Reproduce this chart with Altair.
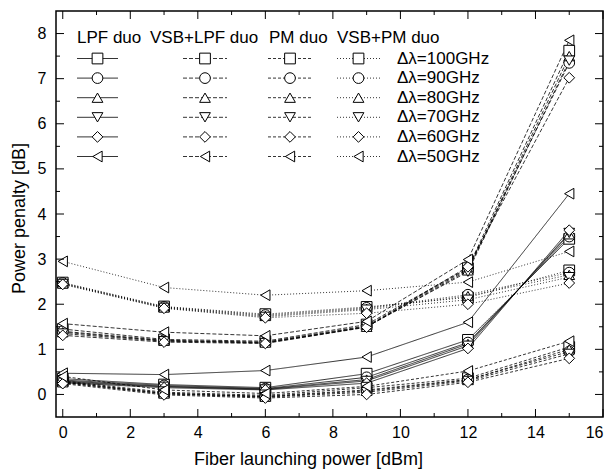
import altair as alt
import pandas as pd

# ---------------- data ----------------
power = [0, 3, 6, 9, 12, 15]
spacings = ["100", "90", "80", "70", "60", "50"]
schemes = ["LPF duo", "VSB+LPF duo", "PM duo", "VSB+PM duo"]

lpf_duo = {
    "100": [0.35, 0.22, 0.15, 0.46, 1.21, 3.45],
    "90":  [0.32, 0.20, 0.13, 0.38, 1.15, 3.50],
    "80":  [0.30, 0.18, 0.12, 0.33, 1.12, 3.55],
    "70":  [0.28, 0.17, 0.11, 0.30, 1.08, 3.58],
    "60":  [0.26, 0.15, 0.10, 0.25, 1.02, 3.64],
    "50":  [0.47, 0.44, 0.53, 0.83, 1.60, 4.45],
}
vsb_lpf_duo = {
    "100": [1.45, 1.22, 1.18, 1.55, 2.80, 7.62],
    "90":  [1.40, 1.20, 1.16, 1.52, 2.78, 7.35],
    "80":  [1.38, 1.19, 1.15, 1.50, 2.75, 7.50],
    "70":  [1.35, 1.18, 1.14, 1.50, 2.72, 7.40],
    "60":  [1.31, 1.16, 1.13, 1.49, 2.83, 7.02],
    "50":  [1.57, 1.38, 1.30, 1.62, 2.99, 7.85],
}
pm_duo = {
    "100": [0.30, 0.05, -0.02, 0.15, 0.36, 1.05],
    "90":  [0.28, 0.03, -0.04, 0.10, 0.33, 0.95],
    "80":  [0.27, 0.02, -0.05, 0.08, 0.32, 1.00],
    "70":  [0.26, 0.01, -0.06, 0.05, 0.30, 0.90],
    "60":  [0.24, -0.01, -0.08, 0.00, 0.27, 0.80],
    "50":  [0.40, 0.10, 0.02, 0.18, 0.52, 1.18],
}
vsb_pm_duo = {
    "100": [2.48, 1.95, 1.78, 1.94, 2.15, 2.75],
    "90":  [2.47, 1.94, 1.76, 1.92, 2.21, 2.70],
    "80":  [2.46, 1.93, 1.74, 1.90, 2.18, 2.65],
    "70":  [2.45, 1.92, 1.72, 1.88, 2.10, 2.60],
    "60":  [2.44, 1.91, 1.70, 1.80, 2.00, 2.47],
    "50":  [2.95, 2.37, 2.20, 2.30, 2.49, 3.17],
}

x_major = [0, 2, 4, 6, 8, 10, 12, 14, 16]
x_minor = [1, 3, 5, 7, 9, 11, 13, 15]
y_major = [0, 1, 2, 3, 4, 5, 6, 7, 8]
y_minor = [0.5, 1.5, 2.5, 3.5, 4.5, 5.5, 6.5, 7.5]

# ---------------- styling ----------------
W, H = 547, 406
FONT = "Liberation Sans"
shapes = ["square", "circle", "triangle-up", "triangle-down", "diamond", "triangle-left"]
dashes = [[1, 0], [4, 2], [3, 2], [1, 2]]
MSIZE = 115

rows = []
for sch, tbl in zip(schemes, [lpf_duo, vsb_lpf_duo, pm_duo, vsb_pm_duo]):
    for sp in spacings:
        for p, v in zip(power, tbl[sp]):
            rows.append({"scheme": sch, "spacing": sp, "series": sch + sp,
                         "power": p, "penalty": v})
df = pd.DataFrame(rows)

xscale = alt.Scale(domain=[-0.2, 16], nice=False, zero=False)
yscale = alt.Scale(domain=[-0.5, 8.5], nice=False, zero=False)
xaxis = alt.Axis(values=x_major, ticks=False, tickSize=0, domain=False, grid=False,
                 labelFontSize=16, labelPadding=7, labelFont=FONT,
                 title="Fiber launching power [dBm]", titleFontSize=18,
                 titleFontWeight="normal", titleFont=FONT, titlePadding=10,
                 titleX=252, titleAlign="center")
yaxis = alt.Axis(values=y_major, ticks=False, tickSize=0, domain=False, grid=False,
                 labelFontSize=16, labelPadding=10, labelFont=FONT,
                 title="Power penalty [dB]", titleFontSize=18,
                 titleFontWeight="normal", titleFont=FONT, titlePadding=9,
                 titleY=207, titleAlign="center")

X = alt.X("power:Q", scale=xscale, axis=xaxis)
Y = alt.Y("penalty:Q", scale=yscale, axis=yaxis)

dash_enc = alt.StrokeDash("scheme:N", scale=alt.Scale(domain=schemes, range=dashes), legend=None)
shape_enc = alt.Shape("spacing:N", scale=alt.Scale(domain=spacings, range=shapes), legend=None)

base = alt.Chart(df)
lines = base.mark_line(color="black", strokeWidth=0.8).encode(
    x=X, y=Y, detail="series:N", strokeDash=dash_enc, order="power:Q")
points = base.mark_point(filled=True, fill="white", stroke="black", strokeWidth=1,
                         size=MSIZE, opacity=1).encode(x=X, y=Y, shape=shape_enc)

layers = [lines, points]

# inward ticks on all four sides
def xticks(vals, length):
    d = pd.DataFrame({"power": vals})
    b = alt.Chart(d).mark_rule(color="black", strokeWidth=1)
    return [b.encode(x=X, y=alt.value(H), y2=alt.value(H - length)),
            b.encode(x=X, y=alt.value(0), y2=alt.value(length))]

def yticks(vals, length):
    d = pd.DataFrame({"penalty": vals})
    b = alt.Chart(d).mark_rule(color="black", strokeWidth=1)
    return [b.encode(y=Y, x=alt.value(0), x2=alt.value(length)),
            b.encode(y=Y, x=alt.value(W), x2=alt.value(W - length))]

layers += xticks(x_major, 8) + xticks(x_minor, 4) + yticks(y_major, 8) + yticks(y_minor, 4)

# in-plot legend (pixel layout)
header_x = [21, 94, 213, 281]
sample_x = [(21, 62), (127, 171), (212, 256), (281, 324)]
row_y = [47.5 + 19.6 * i for i in range(6)]
header_y = 27
one = pd.DataFrame({"a": [0]})
for j, sch in enumerate(schemes):
    layers.append(alt.Chart(one).mark_text(align="left", baseline="middle", fontSize=17,
                                           font=FONT, color="black").encode(
        x=alt.value(header_x[j]), y=alt.value(header_y), text=alt.value(sch)))
    x0, x1 = sample_x[j]
    for i, sp in enumerate(spacings):
        layers.append(alt.Chart(one).mark_rule(color="black", strokeWidth=0.8,
                                               strokeDash=dashes[j]).encode(
            x=alt.value(x0), x2=alt.value(x1), y=alt.value(row_y[i])))
        layers.append(alt.Chart(one).mark_point(shape=shapes[i], filled=True, fill="white",
                                                stroke="black", strokeWidth=1, size=MSIZE,
                                                opacity=1).encode(
            x=alt.value((x0 + x1) / 2), y=alt.value(row_y[i])))
for i, sp in enumerate(spacings):
    layers.append(alt.Chart(one).mark_text(align="left", baseline="middle", fontSize=17,
                                           font=FONT, color="black").encode(
        x=alt.value(341), y=alt.value(row_y[i]), text=alt.value("Δλ=" + sp + "GHz")))

chart = alt.layer(*layers).properties(
    width=W, height=H,
    autosize=alt.AutoSizeParams(type="none"),
    padding={"left": 56, "top": 11, "right": 10, "bottom": 58},
    background="white",
).configure_view(stroke="black", strokeWidth=1.5)

chart.save("out.html", embed_options={"renderer": "svg", "actions": False})
